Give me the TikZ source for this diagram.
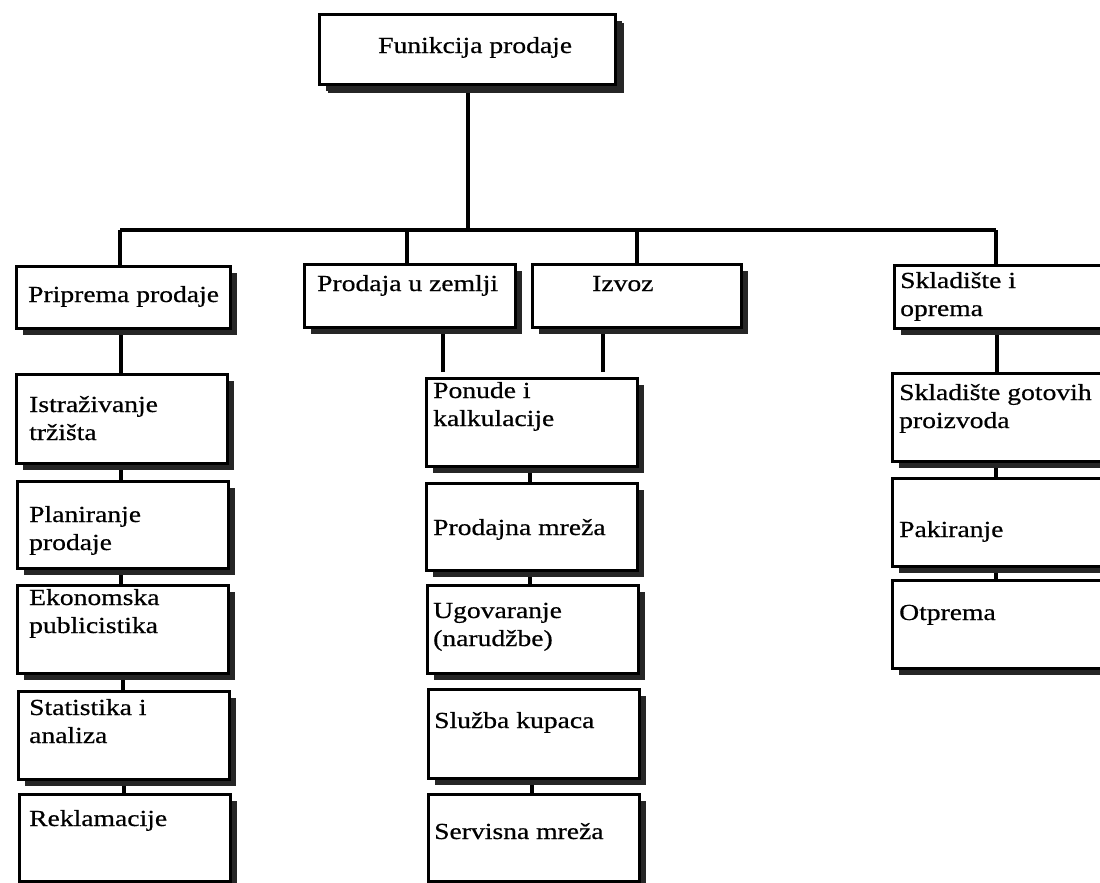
\documentclass[tikz,border=0pt]{standalone}
\usepackage{fontspec}
\setmainfont{Liberation Serif}[FakeStretch=1.2,FakeBold=0.6]
\usetikzlibrary{shadows}
\begin{document}
\begin{tikzpicture}[x=1pt,y=-1pt,
  box/.style={draw=black, line width=2.8pt, fill=white, inner sep=0pt, anchor=north west,
    drop shadow={shadow xshift=7pt, shadow yshift=-7pt, fill=black!85, opacity=1}},
  topbox/.style={box, drop shadow={shadow xshift=9pt, shadow yshift=-9pt, fill=black!85, opacity=1}},
  lbl/.style={anchor=base west, inner sep=0pt, align=left, font=\fontsize{23}{28}\selectfont},
  conn/.style={draw=black, line width=3.2pt}]
\path[use as bounding box, clip] (0,0) rectangle (1100,883);
\fill[white] (0,0) rectangle (1100,883);
% free connector points
\coordinate (hub) at (468,230);
\coordinate (hl) at (120,230);
\coordinate (hr) at (996,230);
\coordinate (pzend) at (443,372);
\coordinate (izend) at (603,372);
% connectors (drawn first, boxes cover their ends)
\path[conn] (468,90) -- (hub);
\path[conn] (hl) -- (hr);
\path[conn] (hl) -- (120,266);
\path[conn] (407,230) -- (407,264);
\path[conn] (637,230) -- (637,264);
\path[conn] (hr) -- (996,265);
\path[conn] (121,330) -- (121,374);
\path[conn] (443,330) -- (pzend);
\path[conn] (603,330) -- (izend);
\path[conn] (997,330) -- (997,373);
\path[conn] (121,467) -- (121,481);
\path[conn] (121,572) -- (121,585);
\path[conn] (123,677) -- (123,691);
\path[conn] (124,783) -- (124,794);
\path[conn] (530,470) -- (530,483);
\path[conn] (530,574) -- (530,585);
\path[conn] (532,782) -- (532,794);
\path[conn] (996,465) -- (996,478);
\path[conn] (996,570) -- (996,580);
% boxes
\node[topbox, minimum width=296pt, minimum height=70pt] (F) at (318,13) {};
\node[box, minimum width=214pt, minimum height=62pt] (P) at (15,265) {};
\node[box, minimum width=211pt, minimum height=63pt] (PZ) at (303,263) {};
\node[box, minimum width=209pt, minimum height=63pt] (IZ) at (531,263) {};
\node[box, minimum width=220pt, minimum height=63pt] (S) at (893,264) {};
\node[box, minimum width=211pt, minimum height=89pt] (L1) at (15,373) {};
\node[box, minimum width=211pt, minimum height=87pt] (L2) at (16,480) {};
\node[box, minimum width=211pt, minimum height=88pt] (L3) at (16,584) {};
\node[box, minimum width=211pt, minimum height=88pt] (L4) at (17,690) {};
\node[box, minimum width=211pt, minimum height=87pt] (L5) at (18,793) {};
\node[box, minimum width=211pt, minimum height=88pt] (M1) at (425,377) {};
\node[box, minimum width=211pt, minimum height=87pt] (M2) at (425,482) {};
\node[box, minimum width=211pt, minimum height=88pt] (M3) at (426,584) {};
\node[box, minimum width=211pt, minimum height=89pt] (M4) at (427,688) {};
\node[box, minimum width=211pt, minimum height=87pt] (M5) at (427,793) {};
\node[box, minimum width=220pt, minimum height=88pt] (R1) at (891,372) {};
\node[box, minimum width=220pt, minimum height=88pt] (R2) at (891,477) {};
\node[box, minimum width=220pt, minimum height=88pt] (R3) at (891,579) {};
% labels (base = last line)
\node[lbl] (Ft) at (378,53) {Funikcija prodaje};
\node[lbl] (Pt) at (28,302) {Priprema prodaje};
\node[lbl] (PZt) at (317,291) {Prodaja u zemlji};
\node[lbl] (IZt) at (592,291) {Izvoz};
\node[lbl] (St) at (900,316) {Skladište i\\oprema};
\node[lbl] (L1t) at (29,440) {Istraživanje\\tržišta};
\node[lbl] (L2t) at (29,550) {Planiranje\\prodaje};
\node[lbl] (L3t) at (29,633) {Ekonomska\\publicistika};
\node[lbl] (L4t) at (29,743) {Statistika i\\analiza};
\node[lbl] (L5t) at (29,826) {Reklamacije};
\node[lbl] (M1t) at (433,426) {Ponude i\\kalkulacije};
\node[lbl] (M2t) at (433,535) {Prodajna mreža};
\node[lbl] (M3t) at (433,646) {Ugovaranje\\(narudžbe)};
\node[lbl] (M4t) at (434,728) {Služba kupaca};
\node[lbl] (M5t) at (434,839) {Servisna mreža};
\node[lbl] (R1t) at (899,428) {Skladište gotovih\\proizvoda};
\node[lbl] (R2t) at (899,537) {Pakiranje};
\node[lbl] (R3t) at (899,620) {Otprema};
\end{tikzpicture}
\end{document}
